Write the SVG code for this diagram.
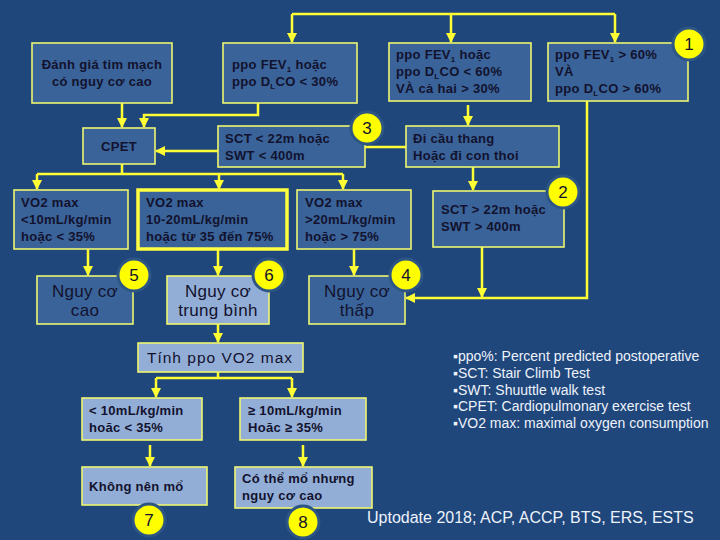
<svg xmlns="http://www.w3.org/2000/svg" width="720" height="540" viewBox="0 0 720 540">
<defs>
<marker id="ah" viewBox="0 0 10 10" refX="9" refY="5" markerWidth="4" markerHeight="4" orient="auto" markerUnits="strokeWidth">
<path d="M0,0 L10,5 L0,10 z" fill="#ffff33"/>
</marker>
<style>
.bx{fill:#3a6399;stroke:#eef56e;stroke-width:1.6}
.lt{fill:#93aed6;stroke:#eef56e;stroke-width:1.6}
.tb{font-family:"Liberation Sans",Arial,sans-serif;font-weight:bold;font-size:13px;fill:#12122e;letter-spacing:0.3px}
.tn{font-family:"Liberation Sans",Arial,sans-serif;font-size:17px;fill:#12122e;letter-spacing:0.3px}
.c{fill:none;stroke:#ffff33;stroke-width:2.5}
.ca{fill:none;stroke:#ffff33;stroke-width:2.5;marker-end:url(#ah)}
.cl{fill:#ffff00;stroke:#2e5684;stroke-width:3}
.cn{font-family:"Liberation Sans",Arial,sans-serif;font-size:17px;fill:#12122e;text-anchor:middle}
.lg{font-family:"Liberation Sans",Arial,sans-serif;font-size:14px;fill:#eef2fa}
sub,.sb{font-size:8px}
</style>
</defs>
<rect x="0" y="0" width="720" height="540" fill="#1f477c"/>

<g id="connectors">
<path class="c" d="M292,14 H615"/>
<path class="ca" d="M292,14 V42"/>
<path class="ca" d="M451,14 V42"/>
<path class="ca" d="M615,14 V42"/>
<path class="ca" d="M122,103 V127"/>
<path class="ca" d="M258,103 V115 H144 V127"/>
<path class="ca" d="M218,151 H156"/>
<path class="ca" d="M468,105 V125"/>
<path class="c" d="M406,147 H365"/>
<path class="ca" d="M473,167 V190"/>
<path class="ca" d="M587,101 V298 H406"/>
<path class="ca" d="M482,247 V297"/>
<path class="c" d="M122,164 V174"/>
<path class="c" d="M37,174 H343"/>
<path class="ca" d="M37,174 V189"/>
<path class="ca" d="M219,174 V189"/>
<path class="ca" d="M343,174 V189"/>
<path class="ca" d="M88,249 V275"/>
<path class="ca" d="M218,250 V275"/>
<path class="ca" d="M354,249 V275"/>
<path class="ca" d="M218,324 V342"/>
<path class="c" d="M218,372 V378 M156,378 H292"/>
<path class="ca" d="M156,378 V397"/>
<path class="ca" d="M292,378 V397"/>
<path class="ca" d="M150,445 V466"/>
<path class="ca" d="M303,445 V466"/>
</g>

<g id="n-danhgia">
<rect class="bx" x="32" y="43" width="140" height="60"/>
<text class="tb" x="102" y="69" text-anchor="middle">Đánh giá tim mạch</text>
<text class="tb" x="102" y="86" text-anchor="middle">có nguy cơ cao</text>
</g>

<g id="n-ppo30">
<rect class="bx" x="223" y="43" width="134" height="60"/>
<text class="tb" x="232" y="69">ppo FEV<tspan class="sb" dy="3">1</tspan><tspan dy="-3"> hoặc</tspan></text>
<text class="tb" x="232" y="86">ppo D<tspan class="sb" dy="3">L</tspan><tspan dy="-3">CO &lt; 30%</tspan></text>
</g>

<g id="n-ppo60">
<rect class="bx" x="389" y="43" width="142" height="58"/>
<text class="tb" x="396" y="59">ppo FEV<tspan class="sb" dy="3">1</tspan><tspan dy="-3"> hoặc</tspan></text>
<text class="tb" x="396" y="76">ppo D<tspan class="sb" dy="3">L</tspan><tspan dy="-3">CO &lt; 60%</tspan></text>
<text class="tb" x="396" y="93">VÀ cả hai &gt; 30%</text>
</g>

<g id="n-ppogt60">
<rect class="bx" x="548" y="43" width="140" height="58"/>
<text class="tb" x="555" y="59">ppo FEV<tspan class="sb" dy="3">1</tspan><tspan dy="-3"> &gt; 60%</tspan></text>
<text class="tb" x="555" y="76">VÀ</text>
<text class="tb" x="555" y="93">ppo D<tspan class="sb" dy="3">L</tspan><tspan dy="-3">CO &gt; 60%</tspan></text>
</g>

<g id="n-cpet">
<rect class="bx" x="83" y="128" width="72" height="36"/>
<text class="tb" x="119" y="151" text-anchor="middle">CPET</text>
</g>

<g id="n-sctlt">
<rect class="bx" x="218" y="126" width="147" height="41"/>
<text class="tb" x="225" y="143">SCT &lt; 22m hoặc</text>
<text class="tb" x="225" y="160">SWT &lt; 400m</text>
</g>

<g id="n-dicau">
<rect class="bx" x="406" y="126" width="153" height="41"/>
<text class="tb" x="413" y="143">Đi cầu thang</text>
<text class="tb" x="413" y="160">Hoặc đi con thoi</text>
</g>

<g id="n-vo2lt10">
<rect class="bx" x="14" y="190" width="114" height="59"/>
<text class="tb" x="21" y="207">VO2 max</text>
<text class="tb" x="21" y="224">&lt;10mL/kg/min</text>
<text class="tb" x="21" y="241">hoặc &lt; 35%</text>
</g>

<g id="n-vo2mid">
<rect class="bx" x="138" y="190" width="149" height="59" style="stroke:#ffff40;stroke-width:3.5"/>
<text class="tb" x="146" y="207">VO2 max</text>
<text class="tb" x="146" y="224">10-20mL/kg/min</text>
<text class="tb" x="146" y="241">hoặc từ 35 đến 75%</text>
</g>

<g id="n-vo2gt20">
<rect class="bx" x="297" y="190" width="114" height="59"/>
<text class="tb" x="305" y="207">VO2 max</text>
<text class="tb" x="305" y="224">&gt;20mL/kg/min</text>
<text class="tb" x="305" y="241">hoặc &gt; 75%</text>
</g>

<g id="n-sctgt">
<rect class="bx" x="433" y="191" width="131" height="56"/>
<text class="tb" x="441" y="214">SCT &gt; 22m hoặc</text>
<text class="tb" x="441" y="231">SWT &gt; 400m</text>
</g>

<g id="n-cao">
<rect class="bx" x="37" y="276" width="96" height="48"/>
<text class="tn" x="85" y="297" text-anchor="middle">Nguy cơ</text>
<text class="tn" x="85" y="316" text-anchor="middle">cao</text>
</g>

<g id="n-tb">
<rect class="lt" x="167" y="276" width="102" height="48"/>
<text class="tn" x="218" y="297" text-anchor="middle">Nguy cơ</text>
<text class="tn" x="218" y="316" text-anchor="middle">trung bình</text>
</g>

<g id="n-thap">
<rect class="bx" x="309" y="276" width="96" height="48"/>
<text class="tn" x="357" y="297" text-anchor="middle">Nguy cơ</text>
<text class="tn" x="357" y="316" text-anchor="middle">thấp</text>
</g>

<g id="n-tinh">
<rect class="lt" x="138" y="343" width="165" height="29"/>
<text class="tn" x="220" y="363" text-anchor="middle" style="font-size:15.5px;letter-spacing:1px">Tính ppo VO2 max</text>
</g>

<g id="n-lt10">
<rect class="lt" x="82" y="398" width="120" height="42"/>
<text class="tb" x="89" y="415">&lt; 10mL/kg/min</text>
<text class="tb" x="89" y="432">hoăc &lt; 35%</text>
</g>

<g id="n-ge10">
<rect class="lt" x="240" y="398" width="126" height="42"/>
<text class="tb" x="248" y="415">≥ 10mL/kg/min</text>
<text class="tb" x="248" y="432">Hoăc ≥ 35%</text>
</g>

<g id="n-khong">
<rect class="lt" x="82" y="467" width="125" height="38"/>
<text class="tb" x="89" y="491">Không nên mổ</text>
</g>

<g id="n-cothe">
<rect class="lt" x="235" y="467" width="137" height="41"/>
<text class="tb" x="242" y="483">Có thể mổ nhưng</text>
<text class="tb" x="242" y="500">nguy cơ cao</text>
</g>

<g id="badges">
<circle class="cl" cx="689" cy="44" r="16"/><text class="cn" x="689" y="50">1</text>
<circle class="cl" cx="563" cy="192" r="16"/><text class="cn" x="563" y="198">2</text>
<circle class="cl" cx="367" cy="128" r="16"/><text class="cn" x="367" y="134">3</text>
<circle class="cl" cx="406" cy="275" r="16"/><text class="cn" x="406" y="281">4</text>
<circle class="cl" cx="134" cy="275" r="16"/><text class="cn" x="134" y="281">5</text>
<circle class="cl" cx="269" cy="275" r="16"/><text class="cn" x="269" y="281">6</text>
<circle class="cl" cx="149" cy="520" r="16"/><text class="cn" x="149" y="526">7</text>
<circle class="cl" cx="303" cy="522" r="16"/><text class="cn" x="303" y="528">8</text>
</g>

<g id="legend">
<text class="lg" x="453" y="361">▪ppo%: Percent predicted postoperative</text>
<text class="lg" x="453" y="378">▪SCT: Stair Climb Test</text>
<text class="lg" x="453" y="395">▪SWT: Shuuttle walk test</text>
<text class="lg" x="453" y="411">▪CPET: Cardiopulmonary exercise test</text>
<text class="lg" x="453" y="428">▪VO2 max: maximal oxygen consumption</text>
<text class="lg" x="367" y="523" style="font-size:16px">Uptodate 2018; ACP, ACCP, BTS, ERS, ESTS</text>
</g>
</svg>
